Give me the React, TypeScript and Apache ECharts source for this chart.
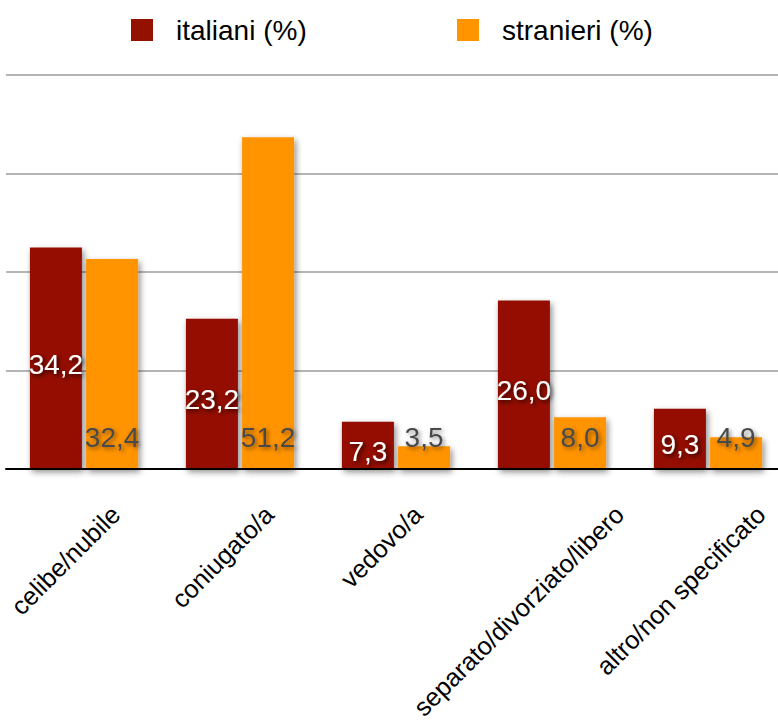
import React, { useEffect, useRef } from "react";
import * as echarts from "echarts";

// Stato civile: quota percentuale per italiani e stranieri
const categories = [
  "celibe/nubile",
  "coniugato/a",
  "vedovo/a",
  "separato/divorziato/libero",
  "altro/non specificato",
];
const italiani = [34.2, 23.2, 7.3, 26.0, 9.3];
const stranieri = [32.4, 51.2, 3.5, 8.0, 4.9];
const seriesNames = ["italiani (%)", "stranieri (%)"];

const FONT = "'Liberation Sans', Arial, Helvetica, sans-serif";
const RED = "#941100";
const ORANGE = "#FF9300";
const AXIS_FONT_SIZE = 25.5;

const fmt = (v: number) => v.toFixed(1).replace(".", ",");

const barShadow = {
  shadowColor: "rgba(0,0,0,0.45)",
  shadowBlur: 6,
  shadowOffsetX: 2,
  shadowOffsetY: 3,
};

// Width of a label in the axis font, used to slide the rotated labels sideways
function textWidth(text: string, size: number): number {
  const ctx = document.createElement("canvas").getContext("2d");
  if (!ctx) return text.length * size * 0.5;
  ctx.font = `${size}px ${FONT}`;
  return ctx.measureText(text).width;
}

const legendBase = {
  top: 16,
  padding: 0,
  orient: "horizontal" as const,
  icon: "rect",
  itemWidth: 22,
  itemHeight: 22,
  selectedMode: false,
  itemStyle: { shadowBlur: 0, shadowOffsetX: 0, shadowOffsetY: 0, shadowColor: "transparent" },
  textStyle: {
    fontFamily: FONT,
    fontSize: 28,
    color: "#000",
    padding: [0, 0, 0, 18],
  },
};

export default function App() {
  const ref = useRef<HTMLDivElement>(null);

  useEffect(() => {
    if (!ref.current) return;
    const chart = echarts.init(ref.current, undefined, { renderer: "svg" });

    // Rotated labels: longer labels sit further to the right of their category
    const axisData = categories.map((c) => {
      const w = textWidth(c, AXIS_FONT_SIZE);
      const dx = 0.25 * w - 35;
      const s = dx / Math.SQRT2;
      return {
        value: c,
        textStyle: {
          align: "right",
          verticalAlign: "top",
          lineHeight: 30,
          padding: [29 + s, -s, 0, 0],
        },
      };
    });

    chart.setOption({
      animation: false,
      backgroundColor: "#fff",
      legend: [
        { ...legendBase, left: 131, data: [seriesNames[0]] },
        { ...legendBase, left: 457, data: [seriesNames[1]] },
      ],
      grid: {
        left: 6,
        top: 75,
        width: 780,
        height: 394,
        outerBoundsMode: "none",
      },
      xAxis: {
        type: "category",
        data: axisData,
        z: 3,
        axisLine: { lineStyle: { color: "#000", width: 2 } },
        axisTick: { show: false },
        axisLabel: {
          interval: 0,
          rotate: 45,
          margin: 10,
          align: "right",
          verticalAlign: "top",
          lineHeight: 30,
          padding: [29, 0, 0, 0],
          fontFamily: FONT,
          fontSize: AXIS_FONT_SIZE,
          color: "#000",
        },
      },
      yAxis: {
        type: "value",
        min: 0,
        max: 60.8,
        interval: 15.2,
        axisLabel: { show: false },
        axisLine: { show: false },
        axisTick: { show: false },
        splitLine: { lineStyle: { color: "#b5b5b5", width: 2 } },
      },
      series: [
        {
          name: seriesNames[0],
          type: "bar",
          data: italiani,
          barWidth: 52,
          barGap: "8%",
          itemStyle: { color: RED, ...barShadow },
          label: {
            show: true,
            position: "inside",
            offset: [0, 6],
            formatter: (p: any) => fmt(p.value),
            fontFamily: FONT,
            fontSize: 28,
            lineHeight: 28,
            color: "#fff",
            textBorderWidth: 0,
            textShadowColor: "rgba(0,0,0,0.75)",
            textShadowBlur: 4,
            textShadowOffsetX: 2,
            textShadowOffsetY: 2,
          },
        },
        {
          name: seriesNames[1],
          type: "bar",
          data: stranieri,
          barWidth: 52,
          barGap: "8%",
          itemStyle: { color: ORANGE, ...barShadow },
          label: {
            show: true,
            position: "insideBottom",
            distance: 18,
            formatter: (p: any) => fmt(p.value),
            fontFamily: FONT,
            fontSize: 28,
            lineHeight: 28,
            color: "#4a4a4a",
            textBorderWidth: 0,
            textShadowColor: "rgba(0,0,0,0.45)",
            textShadowBlur: 4,
            textShadowOffsetX: 2,
            textShadowOffsetY: 2,
          },
        },
      ],
    });
    return () => chart.dispose();
  }, []);

  return (
    <div
      ref={ref}
      style={{ position: "absolute", left: 0, top: 0, width: 778, height: 722 }}
    />
  );
}
